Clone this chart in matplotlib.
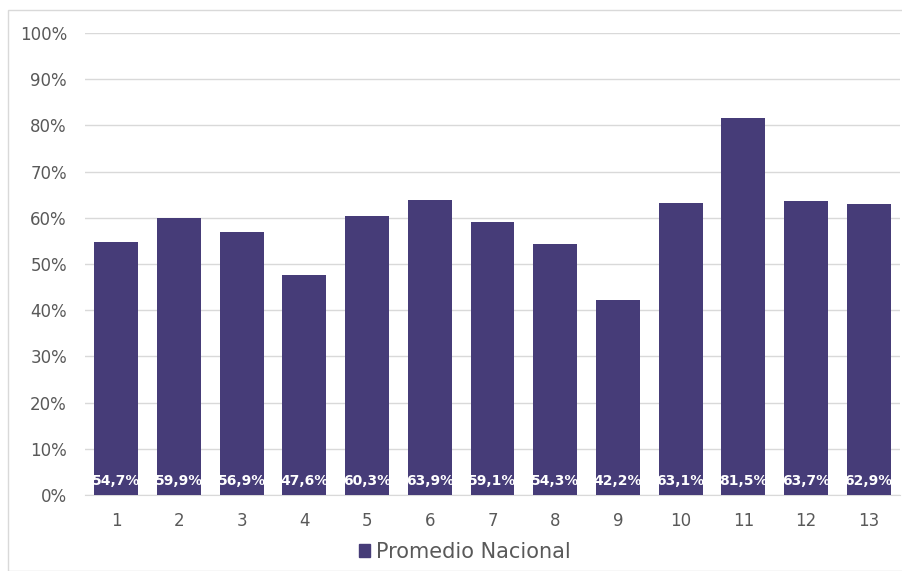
import matplotlib
matplotlib.use("Agg")
import matplotlib.pyplot as plt
from matplotlib.patches import Rectangle

categories = ["1", "2", "3", "4", "5", "6", "7", "8", "9", "10", "11", "12", "13"]
values = [54.7, 59.9, 56.9, 47.6, 60.3, 63.9, 59.1, 54.3, 42.2, 63.1, 81.5, 63.7, 62.9]
labels = ["54,7%", "59,9%", "56,9%", "47,6%", "60,3%", "63,9%", "59,1%",
          "54,3%", "42,2%", "63,1%", "81,5%", "63,7%", "62,9%"]
series_name = "Promedio Nacional"

plt.rcParams["font.family"] = ["DejaVu Sans"]
BAR = "#463C78"
GRID = "#D9D9D9"
TXT = "#595959"

W, H = 903, 571
fig = plt.figure(figsize=(W / 100, H / 100), dpi=100)
fig.patches.append(Rectangle((8 / W, 0), 1, 1 - 10 / H, transform=fig.transFigure,
                             fill=False, edgecolor="#D9D9D9", lw=1))
ax = fig.add_axes([85 / W, 1 - 495 / H, (900 - 85) / W, (495 - 33) / H])

x = range(len(categories))
ax.bar(x, values, width=0.7, color=BAR, zorder=3)
for xi, lab in zip(x, labels):
    ax.text(xi, 3.0, lab, ha="center", va="center", color="white",
            fontsize=10, fontweight="bold", zorder=4)

ax.set_xlim(-0.5, len(categories) - 0.5)
ax.set_ylim(0, 100)
ax.set_yticks(range(0, 101, 10))
ax.set_yticklabels([f"{v}%" for v in range(0, 101, 10)])
ax.set_xticks(list(x))
ax.set_xticklabels(categories)
ax.grid(axis="y", color=GRID, lw=1, zorder=0)
for s in ["top", "right", "left"]:
    ax.spines[s].set_visible(False)
ax.spines["bottom"].set_color(GRID)
ax.tick_params(axis="both", length=0, colors=TXT, labelsize=12)
ax.tick_params(axis="y", pad=13)
ax.tick_params(axis="x", pad=12)

handle = Rectangle((0, 0), 1, 1, color=BAR)
fig.legend([handle], [series_name], loc="center", bbox_to_anchor=(465 / W, 1 - 552 / H),
           frameon=False, fontsize=15, labelcolor=TXT, handlelength=0.55,
           handleheight=0.55, handletextpad=0.3)

fig.savefig("out.png", dpi=100)
